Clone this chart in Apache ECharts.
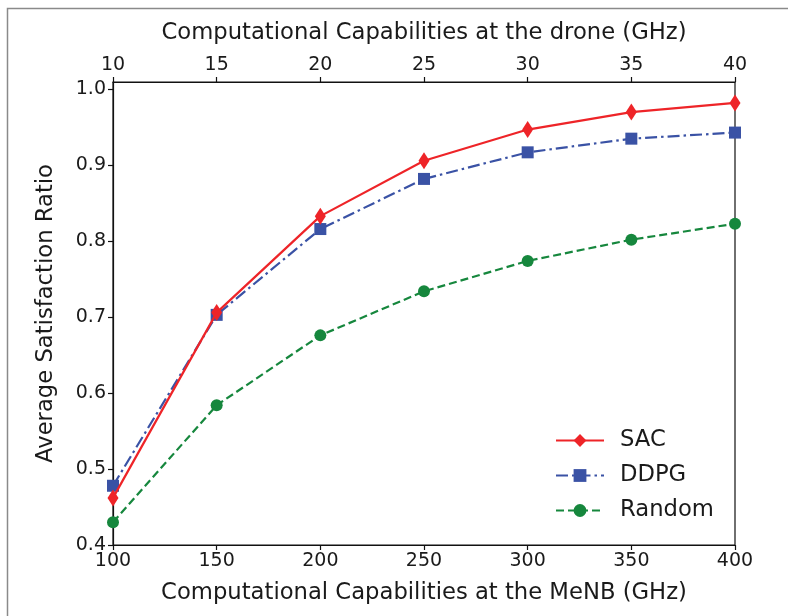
<!DOCTYPE html>
<html>
<head>
<meta charset="utf-8">
<script src="https://cdn.jsdelivr.net/npm/echarts@6/dist/echarts.min.js"></script>
<style>html,body{margin:0;padding:0;background:#fff;}#c{width:788px;height:616px;}</style>
</head>
<body>
<div id="c"></div>
<script>
const menbCapacity = [100, 150, 200, 250, 300, 350, 400];
const sacValues = [0.462, 0.706, 0.833, 0.906, 0.947, 0.970, 0.982];
const ddpgValues = [0.478, 0.703, 0.816, 0.882, 0.917, 0.935, 0.943];
const randomValues = [0.430, 0.584, 0.676, 0.734, 0.774, 0.802, 0.823];
const yTicks = [0.4, 0.5, 0.6, 0.7, 0.8, 0.9, 1.0];

const font = 'DejaVu Sans';
const txt = '#1a1a1a';
const pairs = v => menbCapacity.map((x, i) => [x, v[i]]);

const chart = echarts.init(document.getElementById('c'), null, {renderer: 'canvas'});
chart.setOption({
  backgroundColor: '#fff',
  animation: false,
  graphic: [{
    type: 'rect', silent: true,
    shape: {x: 7.5, y: 8.5, width: 900, height: 800},
    style: {fill: 'none', stroke: '#8a8a8a', lineWidth: 1.5}
  }],
  grid: {left: 113, right: 53, top: 82, bottom: 71, show: true, borderColor: '#111', borderWidth: 1.2, backgroundColor: 'transparent'},
  legend: {
    orient: 'vertical', left: 550, top: 424, itemGap: 12,
    itemWidth: 48, itemHeight: 16,
    textStyle: {fontFamily: font, fontSize: 22.7, color: txt, padding: [0, 0, 0, 11]},
    data: ['SAC', 'DDPG', 'Random']
  },
  xAxis: [{
    type: 'value', position: 'bottom', min: 100, max: 400, interval: 50,
    name: 'Computational Capabilities at the MeNB (GHz)', nameLocation: 'middle', nameGap: 36.5,
    nameTextStyle: {fontFamily: font, fontSize: 22.7, color: txt},
    axisLine: {show: true, onZero: false, lineStyle: {color: '#111', width: 1.2}},
    axisTick: {show: true, inside: false, length: 5, lineStyle: {color: '#111', width: 1.2}},
    axisLabel: {fontFamily: font, fontSize: 19, color: txt, margin: 7},
    splitLine: {show: false}
  }, {
    type: 'value', position: 'top', min: 10, max: 40, interval: 5,
    name: 'Computational Capabilities at the drone (GHz)', nameLocation: 'middle', nameGap: 37,
    nameTextStyle: {fontFamily: font, fontSize: 22.7, color: txt},
    axisLine: {show: true, onZero: false, lineStyle: {color: '#111', width: 1.2}},
    axisTick: {show: true, inside: false, length: 5, lineStyle: {color: '#111', width: 1.2}},
    axisLabel: {fontFamily: font, fontSize: 19, color: txt, margin: 7},
    splitLine: {show: false}
  }],
  yAxis: {
    type: 'value', min: 0.4, max: 1.0096,
    name: 'Average Satisfaction Ratio', nameLocation: 'middle', nameGap: 55,
    nameTextStyle: {fontFamily: font, fontSize: 22.7, color: txt},
    axisLine: {show: true, onZero: false, lineStyle: {color: '#111', width: 1.2}},
    axisTick: {show: true, inside: false, length: 5, customValues: yTicks, lineStyle: {color: '#111', width: 1.2}},
    axisLabel: {fontFamily: font, fontSize: 19, color: txt, margin: 7, customValues: yTicks, formatter: v => v.toFixed(1)},
    splitLine: {show: false}
  },
  series: [{
    name: 'SAC', type: 'line', xAxisIndex: 0, data: pairs(sacValues), z: 4,
    symbol: 'diamond', symbolSize: [11, 17],
    itemStyle: {color: '#ee2428'},
    lineStyle: {color: '#ee2428', width: 2.2, type: 'solid'}
  }, {
    name: 'DDPG', type: 'line', xAxisIndex: 0, data: pairs(ddpgValues), z: 3,
    symbol: 'rect', symbolSize: 12,
    itemStyle: {color: '#3a52a5'},
    lineStyle: {color: '#3a52a5', width: 2.2, type: [12, 4, 2.5, 4]}
  }, {
    name: 'Random', type: 'line', xAxisIndex: 0, data: pairs(randomValues), z: 2,
    symbol: 'circle', symbolSize: 12,
    itemStyle: {color: '#16873d'},
    lineStyle: {color: '#16873d', width: 2.2, type: [8, 4]}
  }]
});
</script>
</body>
</html>
